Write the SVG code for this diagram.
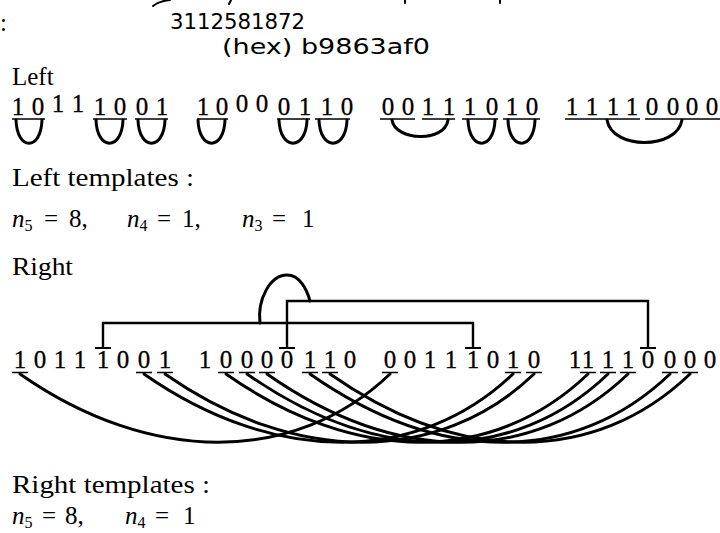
<svg xmlns="http://www.w3.org/2000/svg" width="720" height="533" viewBox="0 0 720 533">
<style>
.t{font-family:"Liberation Serif","DejaVu Serif",serif;font-size:25px;fill:#000}
.bits{font-family:"Liberation Serif","DejaVu Serif",serif;font-size:25px;fill:#000;text-anchor:middle;stroke:#000;stroke-width:0.3}
.hw{font-family:"DejaVu Sans","Liberation Sans",sans-serif;fill:#000}
.ul{stroke:#000;stroke-width:1.7;fill:none}
.arc{fill:none;stroke:#000;stroke-width:3;stroke-linecap:round}
.br{fill:none;stroke:#000;stroke-width:2.4}
.mk{fill:none;stroke:#000;stroke-width:2;stroke-linecap:round}
.it{font-style:italic}
.sub{font-size:16px}
</style>
<rect width="720" height="533" fill="#fff"/>
<g id="scan-marks">
<path class="mk" d="M153,6 Q159,1 170,0"/>
<path class="mk" d="M231,0 L229,4"/>
<path class="mk" d="M405,0 L405,3"/>
<path class="mk" d="M500,0 L500,3"/>
</g>
<g id="header">
<text class="t" x="0" y="31">:</text>
<text class="hw" x="170" y="29" font-size="22" textLength="135" lengthAdjust="spacingAndGlyphs">3112581872</text>
<text class="hw" x="222" y="54" font-size="22" textLength="208" lengthAdjust="spacingAndGlyphs">(hex) b9863af0</text>
</g>
<g id="left-section">
<text class="t" x="12" y="85">Left</text>
<g id="left-bits">
<text class="bits" x="18 38 58 78 100 120 142 162" y="115 115 112 112 115 115 115 115">10111001</text>
<text class="bits" x="203 222 242 262 284 305 327 347" y="115 115 112 112 115 115 115 115">10000110</text>
<text class="bits" x="388 408 428 449 470 492 512 532" y="115">00111010</text>
<text class="bits" x="572 592 613 632 652 673 692 712" y="115">11110000</text>
</g>
<g id="left-underlines">
<path class="ul" d="M12,119H45M93,119H127M135,119H168M197,119H228M277,119H310M315,119H350M380,119H415M422,119H455M462,119H498M503,119H540M565,119H640M645,119H720"/>
</g>
<g id="left-links">
<path class="arc" d="M16,120 C17,151 41,151 42,120"/>
<path class="arc" d="M96,120 C97,151 122,151 123,120"/>
<path class="arc" d="M138,120 C139,151 164,151 165,120"/>
<path class="arc" d="M198,120 C199,151 224,151 225,120"/>
<path class="arc" d="M279,120 C280,151 306,151 307,120"/>
<path class="arc" d="M319,120 C320,151 346,151 347,120"/>
<path class="arc" d="M392,120 C395,141 445,143 448,120"/>
<path class="arc" d="M468,120 C469,151 494,151 495,120"/>
<path class="arc" d="M508,120 C509,151 534,151 535,120"/>
<path class="arc" d="M607,120 C612,150 677,150 682,120"/>
</g>
<text class="t" x="12" y="186" textLength="182" lengthAdjust="spacingAndGlyphs">Left templates :</text>
<text class="t" y="227"><tspan x="12" class="it">n</tspan><tspan class="sub" dy="4">5</tspan><tspan x="44" dy="-4">=</tspan><tspan x="69">8,</tspan><tspan x="127" class="it">n</tspan><tspan class="sub" dy="4">4</tspan><tspan x="157" dy="-4">=</tspan><tspan x="182">1,</tspan><tspan x="242" class="it">n</tspan><tspan class="sub" dy="4">3</tspan><tspan x="272" dy="-4">=</tspan><tspan x="302">1</tspan></text>
</g>
<g id="right-section">
<text class="t" x="12" y="275" textLength="61" lengthAdjust="spacingAndGlyphs">Right</text>
<g id="right-bits">
<text class="bits" x="20 40 60 80 103 123 144 165" y="368">10111001</text>
<text class="bits" x="205 226 247 267 287 310 330 350" y="368">10000110</text>
<text class="bits" x="390 410 430 451 473 493 513 534" y="368">00111010</text>
<text class="bits" x="575 588 608 628 648 670 690 710" y="368">11110000</text>
</g>
<g id="right-marks">
<path class="ul" d="M12,372.5H28M136,372.5H152M157,372.5H173M218,372.5H234M239,372.5H255M259,372.5H275M302,372.5H318M322,372.5H338M382,372.5H398M505,372.5H521M526,372.5H542M580,372.5H596M600,372.5H616M620,372.5H636M662,372.5H678M682,372.5H698"/>
<path class="ul" style="stroke-width:2.2" d="M95,348H111M279,348H295M465,348H481M640,348H656"/>
</g>
<g id="connectors">
<path class="br" d="M103,348 V323 H473 V348"/>
<path class="br" d="M287,348 V301 H648 V348"/>
<path class="arc" d="M260,323 C257,300 270,275 287,275 C300,275 307,290 310,301"/>
<path class="arc" d="M20,374 C150,465 295,465 390,374"/>
<path class="arc" d="M144,374 C274,465 418,465 513,374"/>
<path class="arc" d="M165,374 C295,465 439,465 534,374"/>
<path class="arc" d="M226,374 C356,465 493,465 588,374"/>
<path class="arc" d="M247,374 C377,465 513,465 608,374"/>
<path class="arc" d="M267,374 C397,465 533,465 628,374"/>
<path class="arc" d="M310,374 C440,465 575,465 670,374"/>
<path class="arc" d="M330,374 C460,465 595,465 690,374"/>
</g>
<text class="t" x="12" y="493" textLength="198" lengthAdjust="spacingAndGlyphs">Right templates :</text>
<text class="t" y="524"><tspan x="12" class="it">n</tspan><tspan class="sub" dy="4">5</tspan><tspan x="42" dy="-4">=</tspan><tspan x="65">8,</tspan><tspan x="125" class="it">n</tspan><tspan class="sub" dy="4">4</tspan><tspan x="155" dy="-4">=</tspan><tspan x="183">1</tspan></text>
</g>
</svg>
